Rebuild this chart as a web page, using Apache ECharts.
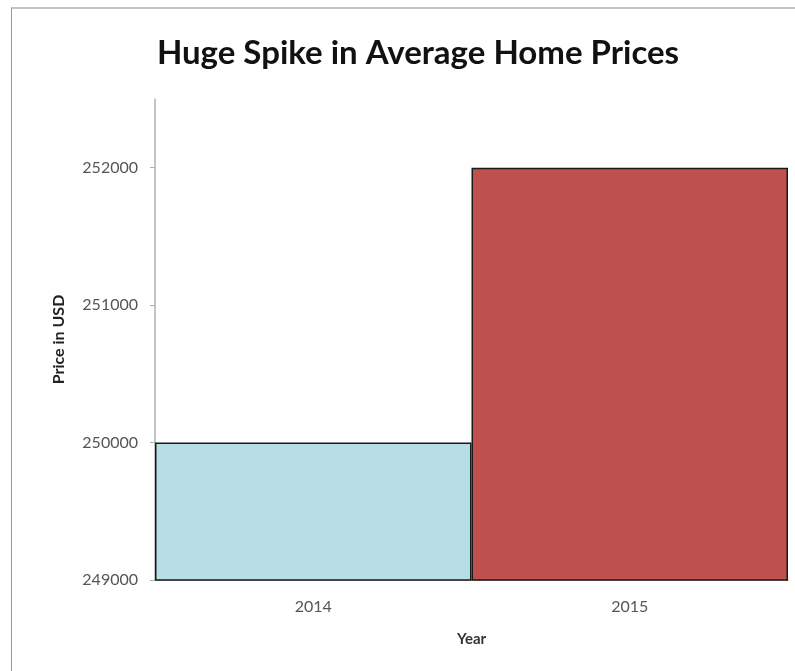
<!DOCTYPE html>
<html>
<head>
<meta charset="utf-8">
<script src="https://cdn.jsdelivr.net/npm/echarts@6/dist/echarts.min.js"></script>
<style>
  html, body { margin: 0; padding: 0; background: #fff; }
  #wrap { position: relative; width: 795px; height: 671px; overflow: hidden; }
  #frame { position: absolute; left: 11px; top: 7px; right: -5px; bottom: -5px;
           border-top: 2px solid #c4c4c4; border-left: 1px solid #9a9a9a; pointer-events: none; }
  #chart { position: absolute; left: 0; top: 0; width: 795px; height: 671px; }
</style>
</head>
<body>
<div id="wrap">
  <div id="chart"></div>
  <div id="frame"></div>
</div>
<script>
const titleText = 'Huge Spike in Average Home Prices';
const categories = ['2014', '2015'];
const prices = [250000, 252000];
const barColors = ['#b7dde7', '#c0504e'];
const yMin = 249000, yMax = 252500, yStep = 1000;

const chart = echarts.init(document.getElementById('chart'), null, { renderer: 'canvas' });
const font = 'Lato, "Open Sans", sans-serif';
chart.setOption({
  animation: false,
  backgroundColor: '#fff',
  title: {
    text: titleText, left: 413, top: 32, textAlign: 'center',
    textStyle: { fontFamily: font, fontWeight: 'bold', fontSize: 33, color: '#111' }
  },
  grid: { left: 155, right: 7, top: 99, bottom: 91, containLabel: false },
  xAxis: {
    type: 'category', data: categories,
    name: 'Year', nameLocation: 'middle', nameGap: 52,
    nameTextStyle: { fontFamily: font, fontWeight: 'bold', fontSize: 15, color: '#333' },
    axisLine: { show: true, lineStyle: { color: '#a8a8a8', width: 1.5 } },
    axisTick: { show: false },
    axisLabel: { margin: 19, fontFamily: font, fontSize: 16, color: '#555' },
    splitLine: { show: false }
  },
  yAxis: {
    type: 'value', min: yMin, max: yMax, interval: yStep,
    name: 'Price in USD', nameLocation: 'middle', nameGap: 88, nameRotate: 90,
    nameTextStyle: { fontFamily: font, fontWeight: 'bold', fontSize: 16, color: '#222' },
    axisLine: { show: true, lineStyle: { color: '#b0b0b0', width: 1.5 } },
    axisTick: { show: true, length: 5, lineStyle: { color: '#b0b0b0' } },
    axisLabel: { margin: 17, fontFamily: font, fontSize: 16, color: '#555',
                 showMaxLabel: false, formatter: v => String(v) },
    splitLine: { show: false }
  },
  series: [{
    type: 'bar', barCategoryGap: '0%',
    data: prices.map((v, i) => ({
      value: v,
      itemStyle: { color: barColors[i], borderColor: '#1a1a1a', borderWidth: 1.5 }
    }))
  }]
});
</script>
</body>
</html>
